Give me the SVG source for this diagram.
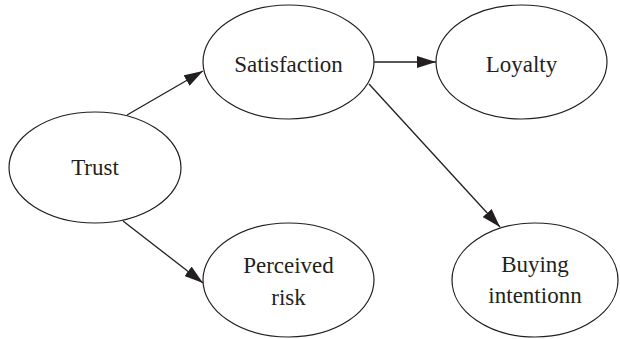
<svg xmlns="http://www.w3.org/2000/svg" width="620" height="339" viewBox="0 0 620 339">
<style>
  .node ellipse { fill: #ffffff; stroke: #231f20; stroke-width: 1.2; }
  .node text { font-family: "Liberation Serif", "Times New Roman", serif; font-size: 23px; fill: #231f20; text-anchor: middle; }
  .edge { stroke: #231f20; stroke-width: 1.3; fill: none; marker-end: url(#arrow); }
</style>
<defs>
  <marker id="arrow" viewBox="0 0 19 12" refX="19" refY="6" markerWidth="19" markerHeight="12" markerUnits="userSpaceOnUse" orient="auto">
    <path d="M0,0 L19,6 L0,12 Z" fill="#231f20"/>
  </marker>
</defs>
<rect width="620" height="339" fill="#ffffff"/>
<g id="connectors">
  <line class="edge" x1="127" y1="115" x2="203" y2="71"/>
  <line class="edge" x1="123" y1="221" x2="203" y2="283"/>
  <line class="edge" x1="374" y1="62" x2="436" y2="62"/>
  <line class="edge" x1="369" y1="84" x2="500" y2="227"/>
</g>
<g id="trust" class="node">
  <ellipse cx="95" cy="167.5" rx="86" ry="55.5"/>
  <text x="95" y="175">Trust</text>
</g>
<g id="satisfaction" class="node">
  <ellipse cx="288.5" cy="62" rx="85.5" ry="57"/>
  <text x="288.5" y="72">Satisfaction</text>
</g>
<g id="loyalty" class="node">
  <ellipse cx="521.5" cy="62" rx="85.5" ry="57"/>
  <text x="521.5" y="72">Loyalty</text>
</g>
<g id="perceived-risk" class="node">
  <ellipse cx="288.5" cy="280" rx="85.5" ry="57"/>
  <text x="288.5" y="273">Perceived</text>
  <text x="288.5" y="305">risk</text>
</g>
<g id="buying-intention" class="node">
  <ellipse cx="535" cy="280" rx="83" ry="57"/>
  <text x="535" y="272">Buying</text>
  <text x="535" y="303">intentionn</text>
</g>
</svg>
